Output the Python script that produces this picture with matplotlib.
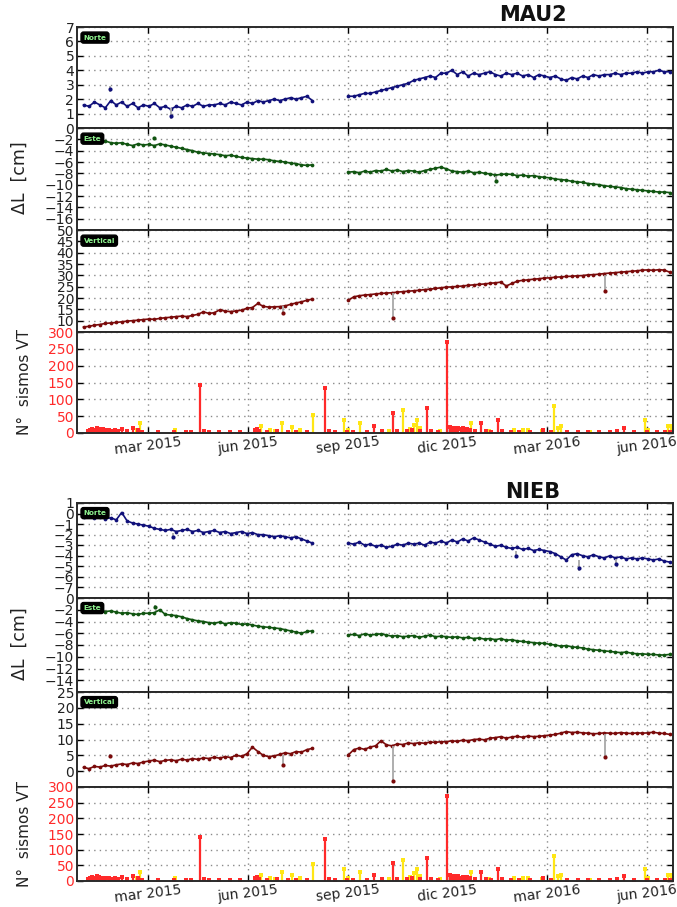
import matplotlib
matplotlib.use('Agg')
import matplotlib.pyplot as plt
import pandas as pd

W, H = 677, 907
fig = plt.figure(figsize=(W / 100, H / 100), dpi=100)

# ---------------- data ----------------
seg1_dates = pd.date_range('2015-01-01', periods=43, freq='5D')
seg2_dates = pd.date_range('2015-09-01', periods=60, freq='5D')

mau2_norte_1 = [1.6, 1.5, 1.8, 1.6, 1.4, 1.9, 1.6, 1.8, 1.5, 1.7, 1.4, 1.6,
                1.5, 1.7, 1.4, 1.5, 1.3, 1.5, 1.4, 1.6, 1.5, 1.7, 1.5, 1.6,
                1.6, 1.7, 1.6, 1.8, 1.7, 1.6, 1.8, 1.7, 1.9, 1.8, 1.9, 2.0,
                1.9, 2.0, 2.1, 2.0, 2.1, 2.2, 1.9]
mau2_norte_2 = [2.2, 2.2, 2.3, 2.4, 2.4, 2.5, 2.6, 2.7, 2.8, 2.9, 3.0, 3.1,
                3.3, 3.4, 3.5, 3.6, 3.5, 3.8, 3.8, 4.0, 3.7, 3.9, 3.6, 3.8,
                3.7, 3.8, 3.9, 3.7, 3.6, 3.8, 3.7, 3.8, 3.6, 3.7, 3.5, 3.7,
                3.6, 3.5, 3.6, 3.4, 3.3, 3.5, 3.4, 3.6, 3.5, 3.7, 3.6, 3.7,
                3.7, 3.8, 3.7, 3.8, 3.8, 3.9, 3.8, 3.9, 3.9, 4.0, 3.9, 3.9]
mau2_norte_out = ['2015-01-25', '2015-03-22']
mau2_norte_out_v = [2.7, 0.8]
mau2_norte_out_lo = [0.2, 0.2]
mau2_norte_out_hi = [0.2, 0.6]

mau2_este_1 = [-2.0, -2.2, -2.1, -2.4, -2.3, -2.6, -2.7, -2.6, -2.9, -3.1, -2.8, -3.0,
               -2.9, -3.1, -2.8, -3.0, -3.2, -3.4, -3.6, -3.8, -4.0, -4.3, -4.4, -4.5,
               -4.6, -4.7, -4.9, -4.8, -5.0, -5.2, -5.3, -5.4, -5.5, -5.5, -5.6, -5.8,
               -5.9, -6.0, -6.2, -6.3, -6.5, -6.6, -6.5]
mau2_este_2 = [-7.8, -7.7, -7.9, -7.6, -7.8, -7.5, -7.6, -7.3, -7.6, -7.4, -7.7, -7.5,
               -7.6, -7.8, -7.5, -7.3, -7.1, -6.9, -7.2, -7.6, -7.7, -7.8, -7.6, -7.9,
               -7.8, -8.0, -8.1, -8.3, -8.2, -8.1, -8.2, -8.4, -8.3, -8.5, -8.4, -8.6,
               -8.7, -8.8, -9.0, -9.1, -9.2, -9.4, -9.5, -9.6, -9.8, -9.9, -10.0, -10.2,
               -10.3, -10.4, -10.5, -10.7, -10.8, -10.9, -11.0, -11.1, -11.2, -11.3, -11.3, -11.4]
mau2_este_out = ['2015-03-07', '2016-01-15']
mau2_este_out_v = [-1.8, -9.3]
mau2_este_out_lo = [0.3, 0.3]
mau2_este_out_hi = [0.3, 0.8]

mau2_vert_1 = [7.2, 7.5, 8.0, 8.3, 8.8, 9.0, 9.2, 9.5, 9.8, 10.0, 10.2, 10.5,
               10.7, 10.6, 11.0, 11.3, 11.5, 11.8, 12.0, 11.8, 12.3, 12.8, 13.9, 13.2,
               13.5, 14.8, 14.2, 14.0, 14.3, 14.6, 15.5, 15.8, 17.6, 16.3, 16.0, 16.1,
               16.2, 16.5, 17.2, 17.8, 18.3, 19.0, 19.5]
mau2_vert_2 = [19.0, 20.5, 21.0, 21.3, 21.5, 21.8, 22.0, 22.2, 22.3, 22.6, 22.8, 23.0,
               23.2, 23.4, 23.7, 23.9, 24.2, 24.5, 24.8, 24.9, 25.1, 25.3, 25.6, 25.8,
               26.0, 26.2, 26.5, 26.7, 27.0, 25.3, 26.4, 27.4, 27.8, 28.0, 28.3, 28.5,
               28.8, 28.9, 29.2, 29.3, 29.5, 29.6, 29.8, 29.9, 30.2, 30.3, 30.5, 30.8,
               31.0, 31.2, 31.4, 31.6, 31.8, 32.0, 32.3, 32.4, 32.2, 32.5, 32.3, 31.4]
mau2_vert_out = ['2015-07-03', '2015-10-12', '2016-04-24']
mau2_vert_out_v = [13.4, 11.2, 23.0]
mau2_vert_out_lo = [0.5, 0.5, 0.5]
mau2_vert_out_hi = [3.0, 11.0, 7.0]

nieb_norte_1 = [-0.3, -0.2, -0.4, -0.3, -0.5, -0.4, -0.6, 0.1, -0.7, -0.9, -1.0, -1.1,
                -1.2, -1.4, -1.5, -1.6, -1.5, -1.7, -1.6, -1.5, -1.7, -1.6, -1.8, -1.7,
                -1.6, -1.8, -1.7, -1.9, -1.8, -1.7, -1.9, -1.8, -2.0, -2.0, -2.1, -2.2,
                -2.1, -2.2, -2.3, -2.2, -2.4, -2.6, -2.8]
nieb_norte_2 = [-2.8, -2.9, -2.7, -3.0, -2.9, -3.1, -3.0, -3.2, -3.1, -2.9, -3.0, -2.8,
                -2.9, -2.8, -3.0, -2.7, -2.8, -2.6, -2.8, -2.5, -2.7, -2.4, -2.6, -2.3,
                -2.5, -2.7, -2.9, -3.1, -3.0, -3.2, -3.3, -3.2, -3.4, -3.3, -3.5, -3.4,
                -3.5, -3.6, -3.8, -4.1, -4.4, -3.9, -3.8, -4.0, -4.1, -3.9, -4.1, -4.2,
                -4.0, -4.2, -4.1, -4.3, -4.2, -4.3, -4.2, -4.3, -4.4, -4.3, -4.5, -4.6]
nieb_norte_out = ['2015-03-24', '2016-02-02', '2016-03-31', '2016-05-04']
nieb_norte_out_v = [-2.2, -4.0, -5.2, -4.8]
nieb_norte_out_lo = [0.2, 0.2, 0.2, 0.2]
nieb_norte_out_hi = [0.4, 0.5, 0.8, 0.5]

nieb_este_1 = [-1.5, -1.7, -1.9, -2.0, -2.3, -2.2, -2.4, -2.6, -2.5, -2.7, -2.8, -2.6,
               -2.6, -2.5, -2.0, -2.8, -2.9, -3.0, -3.2, -3.5, -3.7, -3.9, -4.0, -4.2,
               -4.3, -4.1, -4.4, -4.2, -4.3, -4.5, -4.4, -4.6, -4.8, -4.9, -5.0, -5.1,
               -5.2, -5.4, -5.6, -5.8, -6.0, -5.7, -5.6]
nieb_este_2 = [-6.3, -6.2, -6.4, -6.1, -6.3, -6.2, -6.1, -6.3, -6.5, -6.4, -6.6, -6.5,
               -6.4, -6.7, -6.5, -6.3, -6.6, -6.5, -6.6, -6.7, -6.6, -6.8, -6.7, -6.9,
               -6.8, -7.0, -6.9, -7.1, -6.9, -7.2, -7.1, -7.3, -7.4, -7.5, -7.6, -7.7,
               -7.7, -7.9, -8.0, -8.2, -8.1, -8.3, -8.4, -8.5, -8.7, -8.8, -8.9, -9.0,
               -9.1, -9.2, -9.3, -9.2, -9.4, -9.5, -9.5, -9.6, -9.6, -9.7, -9.7, -9.6]
nieb_este_out = ['2015-03-08']
nieb_este_out_v = [-1.5]
nieb_este_out_lo = [0.3]
nieb_este_out_hi = [0.3]

nieb_vert_1 = [1.2, 0.8, 1.5, 1.3, 1.8, 1.6, 2.0, 2.3, 2.1, 2.6, 2.4, 2.9,
               3.2, 3.5, 3.0, 3.4, 3.6, 3.3, 3.8, 3.5, 4.0, 3.7, 4.2, 4.0,
               4.4, 4.1, 4.6, 4.3, 5.0, 4.7, 5.5, 7.6, 6.2, 5.0, 4.6, 4.8,
               5.3, 5.8, 5.5, 6.2, 6.0, 6.8, 7.2]
nieb_vert_2 = [5.1, 6.8, 7.3, 6.9, 7.6, 8.0, 9.6, 8.3, 8.0, 8.6, 8.4, 8.9,
               8.7, 9.0, 8.8, 9.2, 9.1, 9.3, 9.3, 9.6, 9.4, 9.8, 9.6, 10.0,
               10.1, 9.9, 10.4, 10.6, 10.9, 10.4, 10.8, 11.0, 10.7, 11.1, 10.9, 11.0,
               11.2, 11.4, 11.6, 12.0, 12.5, 12.2, 12.3, 12.1, 12.0, 11.8, 11.9, 12.1,
               12.0, 11.9, 12.2, 12.0, 11.9, 12.1, 12.0, 12.1, 12.3, 12.0, 11.9, 11.6]
nieb_vert_out = ['2015-01-25', '2015-07-03', '2015-10-12', '2016-04-24']
nieb_vert_out_v = [4.8, 2.0, -3.1, 4.6]
nieb_vert_out_lo = [0.5, 0.5, 0.5, 0.5]
nieb_vert_out_hi = [0.5, 3.0, 11.0, 7.0]

red_dates = ['2015-01-05', '2015-01-07', '2015-01-09', '2015-01-11', '2015-01-13', '2015-01-15',
             '2015-01-17', '2015-01-19', '2015-01-21', '2015-01-24', '2015-01-27', '2015-01-30',
             '2015-02-02', '2015-02-05', '2015-02-10', '2015-02-15', '2015-02-20', '2015-02-24',
             '2015-03-10', '2015-03-25', '2015-04-05', '2015-04-10', '2015-04-18', '2015-04-22',
             '2015-04-26', '2015-05-05', '2015-05-15', '2015-05-25', '2015-06-07', '2015-06-09',
             '2015-06-11', '2015-06-18', '2015-06-28', '2015-07-08', '2015-07-15', '2015-07-25',
             '2015-08-11', '2015-08-14', '2015-08-20', '2015-08-31', '2015-09-05', '2015-09-18',
             '2015-09-25', '2015-10-02', '2015-10-12', '2015-10-16', '2015-10-25', '2015-10-29',
             '2015-11-06', '2015-11-12', '2015-11-16', '2015-11-22', '2015-12-01', '2015-12-03',
             '2015-12-05', '2015-12-07', '2015-12-09', '2015-12-11', '2015-12-13', '2015-12-15',
             '2015-12-17', '2015-12-19', '2015-12-22', '2015-12-26', '2016-01-01', '2016-01-05',
             '2016-01-10', '2016-01-16', '2016-01-20', '2016-01-28', '2016-02-05', '2016-02-15',
             '2016-02-27', '2016-03-05', '2016-03-20', '2016-03-30', '2016-04-08', '2016-04-18',
             '2016-04-28', '2016-05-05', '2016-05-11', '2016-05-20', '2016-06-01', '2016-06-10',
             '2016-06-18', '2016-06-22']
red_counts = [6, 8, 12, 10, 15, 12,
              9, 11, 8, 10, 7, 9,
              6, 13, 5, 15, 8, 4,
              2, 3, 3, 2, 142, 5,
              3, 2, 3, 2, 8, 12,
              6, 4, 5, 4, 3, 4,
              133, 5, 3, 4, 3, 4,
              20, 5, 58, 6, 5, 8,
              6, 74, 5, 4, 270, 18,
              14, 16, 12, 15, 11, 14,
              10, 12, 8, 6, 30, 6,
              4, 38, 5, 3, 4, 3,
              10, 4, 3, 3, 4, 3,
              4, 5, 15, 3, 4, 3,
              4, 3]
yellow_dates = ['2015-02-19', '2015-02-22', '2015-03-26', '2015-06-13', '2015-06-21', '2015-06-26',
                '2015-07-02', '2015-07-11', '2015-07-19', '2015-07-31', '2015-08-28', '2015-09-01',
                '2015-09-12', '2015-10-08', '2015-10-21', '2015-10-28', '2015-10-31', '2015-11-03',
                '2015-11-06', '2015-11-24', '2015-12-23', '2016-01-08', '2016-01-31', '2016-02-08',
                '2016-02-13', '2016-02-26', '2016-03-08', '2016-03-11', '2016-03-14', '2016-04-10',
                '2016-05-30', '2016-06-02', '2016-06-20', '2016-06-23']
yellow_counts = [10, 30, 8, 20, 8, 6,
                 30, 18, 8, 53, 38, 8,
                 29, 6, 68, 12, 25, 38,
                 15, 5, 30, 5, 10, 10,
                 10, 5, 80, 15, 20, 4,
                 38, 8, 20, 20]

xtick_dates = ['2015-03-01', '2015-06-01', '2015-09-01', '2015-12-01', '2016-03-01', '2016-06-01']
xtick_labels = ['mar 2015', 'jun 2015', 'sep 2015', 'dic 2015', 'mar 2016', 'jun 2016']
x_start, x_end = '2014-12-26', '2016-06-25'

# ---------------- helpers ----------------
L, R = 77, 673
xt = pd.to_datetime(xtick_dates)
xs, xe = pd.Timestamp(x_start), pd.Timestamp(x_end)
TXT = '#222222'


def make_ax(top, bottom):
    return fig.add_axes([L / W, 1 - bottom / H, (R - L) / W, (bottom - top) / H])


def fmt(v):
    return ('\u2212' + str(abs(v))) if v < 0 else str(v)


def base_style(ax, ylim, yticks, hidden, lab_color=TXT, xlabels=False):
    ax.set_xlim(xs, xe)
    ax.set_ylim(*ylim)
    ax.set_yticks(yticks)
    ax.set_yticklabels(['' if t in hidden else fmt(t) for t in yticks])
    ax.set_xticks(xt)
    if xlabels:
        ax.set_xticklabels(xtick_labels, rotation=7, ha='center', fontsize=9.5, color=TXT)
    else:
        ax.set_xticklabels([])
    ax.grid(True, linestyle=(0, (1, 3)), color='#8a8a8a', linewidth=1.0)
    ax.set_axisbelow(True)
    ax.tick_params(direction='in', top=True, right=True, length=4, width=1,
                   labelsize=10, pad=2)
    ax.tick_params(axis='x', pad=1)
    ax.tick_params(axis='y', labelcolor=lab_color)
    for sp in ax.spines.values():
        sp.set_linewidth(1.4)
        sp.set_color('#2a2a2a')


def tag(ax, text):
    ax.text(0.011, 0.925, text, transform=ax.transAxes, fontsize=5.2, fontweight='bold',
            color='#8ef28e', ha='left', va='top',
            bbox=dict(boxstyle='round,pad=0.35', fc='black', ec='black'))


def gps(ax, v1, v2, od, ov, olo, ohi, color):
    ax.plot(seg1_dates, v1, '-o', color=color, ms=2.7, lw=1.2, mew=0)
    ax.plot(seg2_dates, v2, '-o', color=color, ms=2.7, lw=1.2, mew=0)
    ax.errorbar(pd.to_datetime(od), ov, yerr=[olo, ohi], fmt='o', color=color,
                ecolor='#a8a8a8', ms=3, elinewidth=1.3, capsize=0, mew=0)


def seismic(ax):
    rd = pd.to_datetime(red_dates)
    yd = pd.to_datetime(yellow_dates)
    ax.vlines(yd, 0, yellow_counts, color='#ffe614', lw=1.6)
    ax.plot(yd, yellow_counts, 's', color='#ffe614', ms=2.5, mew=0)
    ax.vlines(rd, 0, red_counts, color='#ff2a2a', lw=1.6)
    ax.plot(rd, red_counts, 's', color='#ff2a2a', ms=2.5, mew=0)


groups = [
    dict(name='MAU2', edges=[27, 128, 230, 332, 433], title_y=15, lab_y=178, sis_y=382,
         norte=(mau2_norte_1, mau2_norte_2, mau2_norte_out, mau2_norte_out_v, mau2_norte_out_lo, mau2_norte_out_hi),
         este=(mau2_este_1, mau2_este_2, mau2_este_out, mau2_este_out_v, mau2_este_out_lo, mau2_este_out_hi),
         vert=(mau2_vert_1, mau2_vert_2, mau2_vert_out, mau2_vert_out_v, mau2_vert_out_lo, mau2_vert_out_hi),
         nlim=(0, 7), nticks=list(range(0, 8)), nhide=[0],
         elim=(-18, 0), eticks=list(range(-18, 1, 2)), ehide=[-18],
         vlim=(5, 50), vticks=list(range(5, 51, 5)), vhide=[5]),
    dict(name='NIEB', edges=[503, 598, 692, 787, 881], title_y=492, lab_y=644, sis_y=834,
         norte=(nieb_norte_1, nieb_norte_2, nieb_norte_out, nieb_norte_out_v, nieb_norte_out_lo, nieb_norte_out_hi),
         este=(nieb_este_1, nieb_este_2, nieb_este_out, nieb_este_out_v, nieb_este_out_lo, nieb_este_out_hi),
         vert=(nieb_vert_1, nieb_vert_2, nieb_vert_out, nieb_vert_out_v, nieb_vert_out_lo, nieb_vert_out_hi),
         nlim=(-8, 1), nticks=list(range(-8, 2)), nhide=[-8],
         elim=(-16, 0), eticks=list(range(-16, 1, 2)), ehide=[-16],
         vlim=(-5, 25), vticks=list(range(-5, 26, 5)), vhide=[-5]),
]

for g in groups:
    e = g['edges']
    axn = make_ax(e[0], e[1])
    axe = make_ax(e[1], e[2])
    axv = make_ax(e[2], e[3])
    axs = make_ax(e[3], e[4])

    gps(axn, *g['norte'], color='#10107a')
    gps(axe, *g['este'], color='#115511')
    gps(axv, *g['vert'], color='#7a0a0a')
    seismic(axs)

    base_style(axn, g['nlim'], g['nticks'], g['nhide'])
    base_style(axe, g['elim'], g['eticks'], g['ehide'])
    base_style(axv, g['vlim'], g['vticks'], g['vhide'])
    base_style(axs, (0, 300), list(range(0, 301, 50)), [], lab_color='#ff2a2a', xlabels=True)

    tag(axn, 'Norte')
    tag(axe, 'Este')
    tag(axv, 'Vertical')

    fig.text(533 / W, 1 - g['title_y'] / H, g['name'], ha='center', va='center',
             fontsize=15, fontweight='bold', color='#111111')
    fig.text(20 / W, 1 - g['lab_y'] / H, '\u0394L  [cm]', rotation=90, ha='center',
             va='center', fontsize=12.5, color=TXT)
    fig.text(25 / W, 1 - g['sis_y'] / H, 'N\u00b0  sismos VT', rotation=90, ha='center',
             va='center', fontsize=11, color=TXT)

fig.savefig('out.png', dpi=100)
